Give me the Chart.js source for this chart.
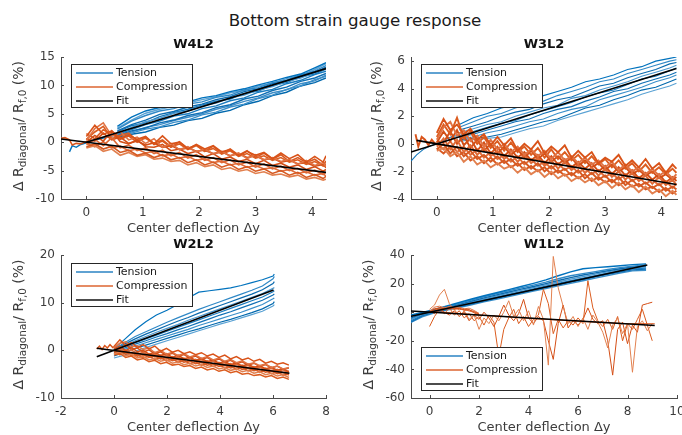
<!DOCTYPE html>
<html>
<head>
<meta charset="utf-8">
<script src="https://cdn.jsdelivr.net/npm/chart.js@4.4.0/dist/chart.umd.min.js"></script>
<style>
  body { margin: 0; width: 682px; height: 435px; overflow: hidden; background: #fff; position: relative; font-family: "DejaVu Sans", sans-serif; }
  canvas { position: absolute; }
  #main-title { position: absolute; left: 0; top: 10px; width: 710px; text-align: center; font-size: 16.7px; line-height: 20px; color: #1a1a1a; }
</style>
</head>
<body>
<div id="main-title">Bottom strain gauge response</div>
<canvas id="w4" width="341" height="210" style="left:0px;top:30px"></canvas>
<canvas id="w3" width="332" height="210" style="left:350px;top:30px"></canvas>
<canvas id="w2" width="341" height="200" style="left:0px;top:235px"></canvas>
<canvas id="w1" width="332" height="200" style="left:350px;top:235px"></canvas>
<script>
// ---- W4L2 ----
const w4XTicks = [0, 1, 2, 3, 4];
const w4YTicks = [-10, -5, 0, 5, 10, 15];
const w4TensionX = [0.55, 0.8, 1.05, 1.3, 1.55, 1.8, 2.05, 2.3, 2.55, 2.8, 3.05, 3.3, 3.55, 3.8, 4.05, 4.25];
const w4Tension = [
  [2.8, 4.4, 5.5, 6.1, 6.7, 7.1, 7.8, 8.2, 8.9, 9.4, 10.1, 10.7, 11.4, 12.0, 13.1, 14.0],
  [2.3, 3.7, 4.7, 5.5, 5.9, 6.7, 7.1, 7.9, 8.3, 9.2, 9.6, 10.5, 10.9, 11.9, 12.5, 13.5],
  [2.0, 3.1, 3.9, 4.9, 5.4, 6.2, 6.7, 7.5, 8.0, 8.9, 9.4, 10.3, 10.8, 11.8, 12.3, 13.2],
  [1.6, 2.6, 3.6, 4.2, 5.1, 5.5, 6.4, 6.9, 7.8, 8.3, 9.2, 9.8, 10.7, 11.3, 12.3, 12.9],
  [1.4, 2.2, 3.1, 3.7, 4.6, 5.0, 5.9, 6.4, 7.3, 7.8, 8.8, 9.3, 10.3, 10.9, 11.9, 12.5],
  [1.2, 2.0, 2.5, 3.4, 3.9, 4.7, 5.2, 6.1, 6.6, 7.6, 8.1, 9.1, 9.7, 10.7, 11.3, 12.1],
  [1.0, 1.6, 2.3, 2.7, 3.5, 3.9, 4.8, 5.3, 6.2, 6.7, 7.7, 8.3, 9.3, 9.9, 11.0, 11.6],
  [0.9, 1.4, 1.8, 2.6, 3.0, 3.8, 4.2, 5.1, 5.6, 6.6, 7.2, 8.2, 8.8, 9.9, 10.5, 11.3],
  [2.5, 3.9, 5.1, 5.8, 6.3, 6.9, 7.5, 8.0, 8.7, 9.1, 9.9, 10.4, 11.2, 11.7, 12.8, 13.8],
  [1.8, 2.9, 3.4, 4.5, 5.2, 5.8, 6.5, 7.2, 7.6, 8.6, 9.0, 10.0, 10.5, 11.5, 12.0, 12.9],
  [1.1, 1.8, 2.6, 3.1, 3.8, 4.4, 5.0, 5.8, 6.4, 7.2, 7.8, 8.7, 9.2, 10.3, 10.8, 11.8]
];
const w4TensionLeadX = [-0.3, -0.25, -0.18, -0.1, 0, 0.12, 0.25, 0.4, 0.55];
const w4TensionLead = [-1.7, -0.6, -0.9, -0.4, -0.1, 0.3, 0.6, 1.0, 1.3];
const w4CompressionX = [0, 0.15, 0.3, 0.45, 0.6, 0.75, 0.9, 1.05, 1.2, 1.35, 1.5, 1.65, 1.8, 1.95, 2.1, 2.25, 2.4, 2.55, 2.7, 2.85, 3.0, 3.15, 3.3, 3.45, 3.6, 3.75, 3.9, 4.05, 4.2, 4.25];
const w4Compression = [
  [1.0, 3.0, 1.4, 2.0, 0.7, 1.3, 0.5, 1.0, -0.3, 1.1, -0.3, 0.0, -1.2, -0.4, -1.2, -0.6, -1.7, -1.3, -2.4, -1.6, -2.3, -1.8, -2.9, -1.9, -2.9, -2.2, -3.5, -2.5, -3.5, -2.4],
  [0.3, 2.4, 3.4, 1.1, 1.9, 0.4, 0.9, -0.2, 0.6, -0.9, -0.2, -1.3, -0.8, -1.7, -1.2, -2.1, -1.6, -2.4, -1.9, -2.9, -2.2, -3.1, -2.7, -3.4, -3.0, -3.9, -3.2, -4.1, -3.6, -4.3],
  [0.0, 1.2, 0.2, 2.0, 0.1, -0.3, 0.4, -0.8, -0.9, -0.4, -1.5, -1.2, -2.0, -1.6, -2.6, -2.0, -3.0, -2.6, -3.4, -3.0, -3.8, -3.2, -4.1, -3.7, -4.4, -4.0, -4.8, -4.3, -5.1, -4.8],
  [-0.4, 0.5, -0.6, 0.8, -1.0, -0.5, -1.5, -1.0, -2.0, -1.4, -2.4, -1.8, -2.8, -2.2, -3.2, -2.7, -3.6, -3.1, -4.0, -3.5, -4.4, -3.8, -4.7, -4.2, -5.0, -4.6, -5.4, -4.9, -5.7, -5.3],
  [-0.8, -0.3, -1.2, -0.7, -1.8, -1.4, -2.3, -1.9, -2.7, -2.2, -3.1, -2.7, -3.6, -3.1, -4.0, -3.5, -4.4, -3.9, -4.8, -4.3, -5.1, -4.7, -5.5, -5.0, -5.8, -5.3, -6.2, -5.7, -6.4, -6.0],
  [-1.0, -0.6, -1.6, -1.2, -2.3, -1.8, -2.5, -2.2, -3.0, -2.8, -3.4, -3.2, -4.0, -3.6, -4.3, -4.0, -4.8, -4.5, -5.1, -4.8, -5.5, -5.2, -5.8, -5.6, -6.1, -5.8, -6.5, -6.2, -6.7, -6.5],
  [0.5, 1.8, 2.8, 0.6, 1.2, 1.6, 0.3, 0.7, -0.2, 0.4, -0.8, -0.3, -1.3, -0.6, -1.6, -1.1, -2.1, -1.5, -2.5, -2.0, -2.8, -2.4, -3.2, -2.7, -3.5, -3.1, -3.9, -3.4, -4.2, -3.8],
  [0.6, 0.2, 1.6, 0.4, 0.9, -0.2, 0.2, -0.5, -0.1, -0.9, -0.6, -1.3, -1.0, -1.6, -1.4, -2.0, -1.7, -2.4, -2.0, -2.7, -2.4, -3.1, -2.8, -3.5, -3.2, -3.8, -3.6, -4.2, -3.9, -4.5],
  [-0.2, -0.8, 0.1, -1.0, -0.7, -1.5, -1.2, -1.9, -1.6, -2.4, -2.1, -2.8, -2.5, -3.2, -2.9, -3.6, -3.3, -4.0, -3.7, -4.4, -4.1, -4.7, -4.5, -5.1, -4.8, -5.5, -5.2, -5.8, -5.5, -6.0],
  [1.5, 0.6, 2.2, 1.4, 0.5, 1.1, 0.0, 0.9, -0.4, 0.2, -0.9, 0.1, -1.1, -0.5, -1.6, -0.7, -2.0, -1.2, -2.3, -1.5, -2.7, -1.9, -3.0, -2.2, -3.4, -2.7, -3.6, -3.0, -4.1, -3.3]
];
const w4CompressionLeadX = [-0.45, -0.38, -0.3, -0.25, -0.18, -0.1, 0];
const w4CompressionLead = [0.7, 0.8, 0.4, -0.5, -0.2, -0.3, 0.1];
const w4FitTensionX = [0, 4.25];
const w4FitTension = [0, 12.96];
const w4FitCompressionX = [-0.45, 4.25];
const w4FitCompression = [0.56, -5.31];

// ---- W3L2 ----
const w3XTicks = [0, 1, 2, 3, 4];
const w3YTicks = [-4, -2, 0, 2, 4, 6];
const w3TensionX = [0.4, 0.65, 0.9, 1.15, 1.4, 1.65, 1.9, 2.15, 2.4, 2.65, 2.9, 3.15, 3.4, 3.65, 3.9, 4.15, 4.27];
const w3Tension = [
  [1.4, 1.9, 2.2, 2.6, 2.8, 3.2, 3.5, 3.8, 4.1, 4.5, 4.7, 5.0, 5.4, 5.6, 6.0, 6.2, 6.3],
  [1.2, 1.6, 2.0, 2.2, 2.6, 2.9, 3.1, 3.5, 3.8, 4.1, 4.5, 4.7, 5.1, 5.4, 5.7, 6.0, 6.1],
  [1.0, 1.3, 1.6, 2.0, 2.3, 2.5, 2.9, 3.2, 3.4, 3.8, 4.2, 4.4, 4.8, 5.1, 5.4, 5.8, 5.9],
  [0.8, 1.1, 1.4, 1.6, 2.0, 2.3, 2.6, 2.8, 3.3, 3.5, 3.9, 4.2, 4.5, 4.9, 5.2, 5.5, 5.7],
  [0.6, 0.9, 1.2, 1.5, 1.7, 2.1, 2.4, 2.7, 3.0, 3.4, 3.7, 3.9, 4.3, 4.7, 4.9, 5.3, 5.5],
  [0.5, 0.7, 1.0, 1.3, 1.6, 1.8, 2.2, 2.5, 2.7, 3.1, 3.4, 3.8, 4.0, 4.4, 4.7, 5.0, 5.2],
  [0.4, 0.5, 0.8, 1.0, 1.3, 1.6, 1.8, 2.2, 2.5, 2.7, 3.2, 3.5, 3.8, 4.1, 4.5, 4.8, 5.0],
  [0.3, 0.4, 0.5, 0.7, 1.0, 1.3, 1.6, 1.8, 2.2, 2.6, 2.8, 3.2, 3.5, 3.9, 4.1, 4.5, 4.7],
  [0.2, 0.3, 0.4, 0.5, 0.8, 1.1, 1.3, 1.7, 2.0, 2.3, 2.6, 2.9, 3.2, 3.6, 3.9, 4.2, 4.4]
];
const w3TensionLeadX = [-0.46, -0.36, -0.24, -0.12, 0.02, 0.15, 0.28, 0.4];
const w3TensionLead = [-1.25, -0.8, -0.4, -0.15, 0.05, 0.3, 0.55, 0.6];
const w3CompressionX = [0, 0.12, 0.24, 0.36, 0.48, 0.6, 0.72, 0.84, 0.96, 1.08, 1.2, 1.32, 1.44, 1.56, 1.68, 1.8, 1.92, 2.04, 2.16, 2.28, 2.4, 2.52, 2.64, 2.76, 2.88, 3.0, 3.12, 3.24, 3.36, 3.48, 3.6, 3.72, 3.84, 3.96, 4.08, 4.2, 4.27];
const w3Compression = [
  [0.8, 1.8, 1.0, 1.4, 0.7, 1.1, 0.3, 0.7, -0.1, 0.5, -0.1, 0.4, -0.5, 0.0, -0.4, 0.2, -0.7, -0.2, -0.6, -0.1, -1.0, -0.5, -1.0, -0.6, -1.4, -1.0, -1.3, -0.8, -1.6, -1.2, -1.7, -1.1, -1.8, -1.4, -2.1, -1.5, -1.8],
  [0.3, 1.2, 1.6, 0.6, 1.0, 0.2, 0.6, -0.2, 0.3, -0.4, 0.0, -0.6, -0.2, -0.8, -0.4, -0.9, -0.5, -1.1, -0.6, -1.2, -0.9, -1.4, -1.0, -1.5, -1.2, -1.7, -1.3, -1.9, -1.5, -2.0, -1.7, -2.2, -1.8, -2.3, -2.0, -2.5, -2.2],
  [0.1, 0.9, 0.2, 1.0, -0.1, 0.4, -0.5, 0.1, -0.7, -0.2, -0.9, -0.4, -1.0, -0.6, -1.2, -0.8, -1.4, -0.9, -1.5, -1.1, -1.7, -1.3, -1.8, -1.4, -2.0, -1.6, -2.2, -1.7, -2.3, -1.9, -2.5, -2.1, -2.6, -2.2, -2.8, -2.4, -2.7],
  [-0.2, 0.4, -0.4, 0.3, -0.6, -0.1, -0.8, -0.3, -0.9, -0.5, -1.1, -0.7, -1.3, -0.8, -1.4, -1.0, -1.6, -1.2, -1.8, -1.3, -1.9, -1.5, -2.1, -1.7, -2.3, -1.8, -2.4, -2.0, -2.6, -2.1, -2.7, -2.3, -2.9, -2.4, -3.0, -2.6, -3.0],
  [-0.4, 0.0, -0.7, -0.2, -0.9, -0.5, -1.1, -0.8, -1.3, -0.9, -1.4, -1.1, -1.6, -1.3, -1.8, -1.4, -2.0, -1.6, -2.1, -1.8, -2.3, -1.9, -2.5, -2.1, -2.6, -2.3, -2.8, -2.4, -3.0, -2.6, -3.1, -2.8, -3.2, -2.9, -3.4, -3.1, -3.3],
  [-0.5, -0.3, -0.9, -0.6, -1.3, -0.9, -1.5, -1.2, -1.7, -1.4, -1.8, -1.6, -2.1, -1.7, -2.2, -1.9, -2.4, -2.0, -2.5, -2.2, -2.7, -2.4, -2.8, -2.5, -3.0, -2.7, -3.2, -2.8, -3.3, -3.0, -3.5, -3.1, -3.6, -3.3, -3.8, -3.4, -3.7],
  [0.5, 1.4, 0.7, 1.9, 0.4, 0.9, 0.0, 0.5, -0.3, 0.2, -0.5, 0.1, -0.6, -0.2, -0.8, -0.3, -1.0, -0.4, -1.1, -0.6, -1.2, -0.8, -1.4, -0.9, -1.5, -1.1, -1.7, -1.2, -1.8, -1.4, -2.0, -1.5, -2.1, -1.7, -2.2, -1.8, -2.1],
  [0.2, 0.1, 0.9, 0.0, 0.6, -0.3, 0.3, -0.5, 0.0, -0.7, -0.2, -0.8, -0.4, -1.0, -0.5, -1.1, -0.7, -1.3, -0.9, -1.4, -1.0, -1.6, -1.2, -1.7, -1.4, -1.9, -1.5, -2.0, -1.7, -2.2, -1.9, -2.3, -2.0, -2.5, -2.2, -2.6, -2.4],
  [0.0, -0.4, 0.2, -0.6, -0.2, -0.8, -0.4, -1.0, -0.6, -1.1, -0.8, -1.3, -0.9, -1.5, -1.1, -1.6, -1.3, -1.8, -1.4, -1.9, -1.6, -2.1, -1.8, -2.2, -1.9, -2.4, -2.1, -2.6, -2.2, -2.7, -2.4, -2.9, -2.6, -3.0, -2.7, -3.2, -2.9],
  [-0.3, -0.7, -0.2, -0.9, -0.6, -1.2, -0.9, -1.4, -1.0, -1.5, -1.2, -1.7, -1.4, -1.9, -1.6, -2.0, -1.7, -2.2, -1.9, -2.3, -2.1, -2.5, -2.2, -2.7, -2.4, -2.8, -2.6, -3.0, -2.7, -3.1, -2.9, -3.3, -3.1, -3.5, -3.2, -3.6, -3.4]
];
const w3CompressionLeadX = [-0.38, -0.33, -0.27, -0.21, -0.15, -0.09, -0.03, 0.02];
const w3CompressionLead = [0.7, -0.2, 0.5, 0.3, -0.1, 0.3, 0.0, 0.05];
const w3FitTensionX = [-0.46, 4.27];
const w3FitTension = [-0.59, 5.47];
const w3FitCompressionX = [-0.36, 4.27];
const w3FitCompression = [0.25, -2.95];

// ---- W2L2 ----
const w2XTicks = [-2, 0, 2, 4, 6, 8];
const w2YTicks = [-10, 0, 10, 20];
const w2TensionX = [0, 0.4, 0.8, 1.2, 1.6, 2.0, 2.4, 2.8, 3.2, 3.6, 4.0, 4.4, 4.8, 5.2, 5.6, 6.0, 6.05];
const w2Tension = [
  [0.3, 2.3, 4.3, 6.0, 7.4, 8.4, 9.6, 11.0, 12.2, 12.5, 12.8, 13.1, 13.6, 14.2, 14.8, 15.6, 16.0],
  [0.2, 1.6, 2.9, 3.9, 4.9, 5.9, 6.8, 7.7, 8.6, 9.4, 10.2, 11.0, 11.8, 12.6, 13.5, 15.0, 15.5],
  [0.1, 1.3, 2.4, 3.4, 4.3, 5.2, 6.1, 6.9, 7.8, 8.6, 9.4, 10.2, 11.0, 11.8, 12.7, 14.0, 14.4],
  [0.0, 1.0, 2.0, 2.9, 3.8, 4.6, 5.4, 6.3, 7.1, 7.9, 8.7, 9.5, 10.3, 11.1, 11.9, 13.0, 13.2],
  [-0.2, 0.8, 1.6, 2.4, 3.2, 4.0, 4.8, 5.6, 6.4, 7.2, 8.0, 8.8, 9.6, 10.4, 11.2, 12.3, 12.5],
  [-0.5, 0.5, 1.3, 2.0, 2.8, 3.5, 4.3, 5.0, 5.8, 6.6, 7.4, 8.1, 8.9, 9.7, 10.5, 11.6, 11.8],
  [-0.8, 0.2, 0.9, 1.6, 2.3, 3.0, 3.7, 4.4, 5.2, 5.9, 6.6, 7.3, 8.0, 8.8, 9.6, 10.8, 11.0],
  [-1.2, -0.4, 0.4, 1.1, 1.8, 2.5, 3.2, 3.9, 4.5, 5.2, 5.9, 6.5, 7.2, 7.9, 8.7, 9.8, 10.2],
  [-1.6, -1.0, -0.2, 0.6, 1.3, 2.0, 2.7, 3.4, 4.1, 4.8, 5.5, 6.1, 6.8, 7.5, 8.2, 9.3, 9.6]
];
const w2CompressionX = [0, 0.22, 0.44, 0.66, 0.88, 1.1, 1.32, 1.54, 1.76, 1.98, 2.2, 2.42, 2.64, 2.86, 3.08, 3.3, 3.52, 3.74, 3.96, 4.18, 4.4, 4.62, 4.84, 5.06, 5.28, 5.5, 5.72, 5.94, 6.16, 6.38, 6.6];
const w2Compression = [
  [0.8, 2.2, 1.0, 1.6, 0.6, 1.2, 0.3, 0.9, -0.2, 0.4, -0.4, 0.0, -0.7, -0.3, -0.9, -0.5, -1.2, -0.8, -1.5, -1.0, -1.8, -1.3, -2.0, -1.6, -2.3, -1.9, -2.7, -2.3, -2.9, -2.6, -3.1],
  [0.5, 1.5, 1.8, 0.8, 0.9, 0.2, 0.5, -0.5, 0.0, -0.8, -0.4, -1.1, -0.7, -1.4, -1.0, -1.7, -1.3, -2.0, -1.6, -2.3, -1.9, -2.6, -2.2, -2.9, -2.6, -3.2, -2.9, -3.6, -3.3, -3.9, -3.6],
  [0.2, 0.9, -0.1, 0.6, -0.3, 0.0, -0.8, -0.4, -1.1, -0.7, -1.5, -1.0, -1.8, -1.4, -2.1, -1.7, -2.4, -2.0, -2.7, -2.3, -3.0, -2.6, -3.3, -2.9, -3.6, -3.2, -3.9, -3.5, -4.2, -3.9, -4.5],
  [-0.2, 0.4, -0.5, 0.1, -0.8, -0.4, -1.1, -0.8, -1.4, -1.1, -1.7, -1.4, -2.0, -1.7, -2.3, -2.0, -2.6, -2.3, -2.9, -2.6, -3.2, -2.9, -3.5, -3.2, -3.8, -3.5, -4.1, -3.8, -4.4, -4.1, -4.8],
  [-0.4, 0.0, -0.8, -0.4, -1.2, -0.8, -1.5, -1.2, -1.8, -1.5, -2.2, -1.9, -2.5, -2.2, -2.8, -2.5, -3.1, -2.8, -3.4, -3.1, -3.7, -3.4, -4.0, -3.7, -4.3, -4.0, -4.6, -4.3, -4.9, -4.6, -5.2],
  [-0.7, -0.3, -1.2, -0.8, -1.6, -1.3, -2.0, -1.7, -2.3, -2.0, -2.7, -2.4, -3.0, -2.7, -3.3, -3.0, -3.6, -3.3, -3.9, -3.6, -4.2, -3.9, -4.5, -4.2, -4.8, -4.5, -5.1, -4.8, -5.4, -5.1, -5.7],
  [-1.0, -0.6, -1.5, -1.2, -2.0, -1.7, -2.4, -2.1, -2.8, -2.5, -3.1, -2.9, -3.4, -3.2, -3.8, -3.5, -4.1, -3.8, -4.4, -4.1, -4.7, -4.4, -5.0, -4.8, -5.3, -5.1, -5.6, -5.3, -5.9, -5.6, -6.1],
  [0.6, 0.3, 1.2, 0.2, 0.5, -0.4, 0.1, -0.7, -0.3, -1.0, -0.6, -1.3, -0.9, -1.6, -1.2, -1.9, -1.5, -2.2, -1.8, -2.5, -2.1, -2.8, -2.4, -3.1, -2.7, -3.4, -3.0, -3.7, -3.3, -4.0, -3.7],
  [0.0, -0.5, 0.1, -0.7, -0.4, -1.1, -0.7, -1.4, -1.0, -1.7, -1.3, -2.0, -1.6, -2.3, -1.9, -2.6, -2.2, -2.9, -2.5, -3.2, -2.8, -3.5, -3.1, -3.8, -3.4, -4.1, -3.7, -4.4, -4.0, -4.7, -4.4],
  [-0.5, -0.9, -0.4, -1.2, -0.9, -1.6, -1.2, -1.9, -1.5, -2.2, -1.8, -2.5, -2.1, -2.8, -2.4, -3.1, -2.7, -3.4, -3.0, -3.7, -3.3, -4.0, -3.6, -4.3, -3.9, -4.6, -4.2, -4.9, -4.5, -5.2, -4.9]
];
const w2CompressionLeadX = [-0.65, -0.55, -0.45, -0.35, -0.25, -0.15, -0.05, 0];
const w2CompressionLead = [0.3, 0.9, 0.2, 1.0, 0.5, 1.2, 0.6, 0.8];
const w2FitTensionX = [-0.65, 6.02];
const w2FitTension = [-1.35, 12.65];
const w2FitCompressionX = [-0.65, 6.62];
const w2FitCompression = [0.45, -4.8];

// ---- W1L2 ----
const w1XTicks = [0, 2, 4, 6, 8, 10];
const w1YTicks = [-60, -40, -20, 0, 20, 40];
const w1TensionX = [-0.75, -0.3, 0.2, 0.7, 1.2, 1.7, 2.2, 2.7, 3.2, 3.7, 4.2, 4.7, 5.2, 5.7, 6.2, 6.7, 7.2, 7.7, 8.2, 8.75];
const w1Tension = [
  [-2.0, -0.2, 2.0, 4.3, 6.8, 9.2, 11.5, 13.6, 15.8, 18.0, 20.2, 22.6, 25.5, 28.2, 30.4, 31.2, 31.8, 32.5, 33.3, 33.8],
  [-3.0, -0.6, 1.6, 3.8, 6.2, 8.5, 10.8, 12.9, 15.0, 17.0, 18.9, 21.0, 23.4, 25.5, 27.0, 28.4, 29.9, 31.2, 32.2, 33.0],
  [-4.0, -1.1, 1.2, 3.3, 5.5, 7.8, 10.0, 12.1, 14.1, 16.1, 18.0, 20.0, 22.2, 24.2, 26.0, 27.5, 29.0, 30.4, 31.6, 32.2],
  [-5.0, -1.5, 0.8, 2.8, 4.9, 7.1, 9.2, 11.3, 13.3, 15.3, 17.2, 19.1, 21.1, 23.1, 24.9, 26.6, 28.2, 29.7, 31.0, 31.6],
  [-6.0, -2.0, 0.4, 2.4, 4.3, 6.4, 8.5, 10.5, 12.5, 14.4, 16.3, 18.2, 20.1, 22.0, 23.8, 25.6, 27.3, 28.9, 30.3, 30.8],
  [-6.8, -2.6, 0.0, 2.0, 3.8, 5.8, 7.8, 9.7, 11.6, 13.5, 15.4, 17.3, 19.2, 21.0, 22.9, 24.7, 26.5, 28.1, 29.6, 30.1],
  [-7.2, -3.2, -0.5, 1.5, 3.2, 5.2, 7.2, 9.0, 10.9, 12.8, 14.7, 16.5, 18.4, 20.2, 22.0, 23.8, 25.6, 27.3, 28.9, 29.3]
];
const w1CompressionStartX = [0, 0.2, 0.4, 0.6, 0.8, 1.0, 1.2, 1.4, 1.6, 1.8, 2.0];
const w1CompressionStart = [
  [0.5, 3.5, 4.2, 3.0, 4.0, 3.2, 3.5, 2.4, 2.8, 1.2, -0.8],
  [0.0, 2.0, 3.2, 2.2, 3.0, 2.5, 2.6, 1.8, 1.5, 0.5, -1.2],
  [-0.5, 1.5, 2.5, 3.6, 2.0, 2.8, 1.8, 2.2, 0.8, 0.0, -1.5],
  [0.3, 2.8, 1.8, 2.6, 3.4, 1.9, 2.9, 1.2, 1.9, -0.5, -1.8]
];
const w1CompressionSteadyX = [0, 1, 2, 3, 4, 5, 6, 7, 8, 9.1];
const w1CompressionSteady = [0.5, -0.6, -2.0, -3.0, -4.3, -5.3, -6.3, -7.3, -8.0, -8.1];
const w1CompressionNoisyX = [0, 0.2, 0.4, 0.6, 0.8, 1.0, 1.2, 1.4, 1.6, 1.8, 2.0, 2.2, 2.4, 2.6, 2.8, 3.0, 3.2, 3.4, 3.6, 3.8, 4.0, 4.2, 4.4, 4.6, 4.8, 5.0, 5.2, 5.4, 5.6, 5.8, 6.0, 6.2, 6.4, 6.6, 6.8, 7.0, 7.2, 7.4, 7.6, 7.8, 8.0, 8.2, 8.4, 8.6, 8.8, 9.0];
const w1CompressionNoisy = [
  [2, 5, 12, 16, 6, 2, -3, 1, -5, -2, -12, -4, -8, -2, -6, 0, 8, -3, 2, -6, 1, -9, 4, -5, -37, 39, 17, 4, -8, -3, -10, -4, -12, -2, -7, -14, -25, -9, -4, -15, -8, -42, -10, -6, -13, -8],
  [-10, -3, 2, -1, 3, -2, 1, -4, -1, -6, -3, -9, -2, -7, -31, -12, -4, 2, -8, -3, -10, -5, -2, 16, 6, -15, -5, -11, -6, -9, -4, -8, 22, 3, -6, -10, -5, -12, -3, -20, -8, -12, -5, 2, -9, -20],
  [1, -1, 3, 0, -2, 1, -3, 0, -6, -2, -5, 0, -4, -10, -3, 5, -2, -6, -1, 9, -4, -8, -3, -6, -20, -33, -8, 5, -11, -6, -9, -5, 3, -5, -8, -6, -20, -44, -12, -7, -22, -9, -14, 5, 6, 7]
];
const w1FitTensionX = [-0.75, 8.8];
const w1FitTension = [-2.8, 33.0];
const w1FitCompressionX = [-0.75, 9.1];
const w1FitCompression = [0.8, -9.3];

const legendLabels = ['Tension', 'Compression', 'Fit'];
const xTitle = 'Center deflection Δy';

// styles
const AXIS = '#4a4a4a';
const TICK = '#3c3c3c';
const blues = ['#0072BD', '#2f88c6', '#0b6aae', '#4b98cf', '#1a7cc0', '#0f6fb5', '#3a8fca', '#0068ad', '#5aa2d4', '#1578bb', '#3d8cc6'];
const oranges = ['#D95319', '#e07344', '#d24f17', '#df6a36', '#d65a22', '#e2804f', '#db5c1f', '#d44e16', '#e06c3a', '#d85820'];

Chart.defaults.font.family = '"DejaVu Sans", sans-serif';

function pts(xs, ys) {
  return xs.map((x, i) => ({ x: x, y: ys[i] }));
}

function trace(data, color, width, order) {
  return { data: data, borderColor: color, borderWidth: width, pointRadius: 0, fill: false, tension: 0, order: order };
}

function drawYLabel(ctx, cx, cy) {
  const parts = [['Δ R', 14, 0], ['diagonal', 10.5, 4], ['/ R', 14, 0], ['f,0', 10.5, 4], [' (%)', 14, 0]];
  let total = 0;
  parts.forEach(p => { ctx.font = p[1] + 'px "DejaVu Sans"'; p.push(ctx.measureText(p[0]).width); total += p[3]; });
  ctx.save();
  ctx.translate(cx, cy);
  ctx.rotate(-Math.PI / 2);
  ctx.fillStyle = TICK;
  ctx.textAlign = 'left';
  ctx.textBaseline = 'middle';
  let x = -total / 2;
  parts.forEach(p => {
    ctx.font = p[1] + 'px "DejaVu Sans"';
    ctx.fillText(p[0], x, p[2]);
    x += p[3];
  });
  ctx.restore();
}

const panelDeco = {
  id: 'panelDeco',
  afterDraw(chart, args, opts) {
    const ctx = chart.ctx;
    const a = chart.chartArea;
    const xs = chart.scales.x, ys = chart.scales.y;
    ctx.save();
    // inward tick marks
    ctx.strokeStyle = AXIS;
    ctx.lineWidth = 1;
    xs.ticks.forEach(t => {
      const px = Math.round(xs.getPixelForValue(t.value)) + 0.5;
      ctx.beginPath(); ctx.moveTo(px, a.bottom); ctx.lineTo(px, a.bottom - 3); ctx.stroke();
    });
    ys.ticks.forEach(t => {
      const py = Math.round(ys.getPixelForValue(t.value)) + 0.5;
      ctx.beginPath(); ctx.moveTo(a.left, py); ctx.lineTo(a.left + 3, py); ctx.stroke();
    });
    // subplot title
    ctx.fillStyle = '#111';
    ctx.font = 'bold 13px "DejaVu Sans"';
    ctx.textAlign = 'center';
    ctx.textBaseline = 'middle';
    ctx.fillText(opts.title, (a.left + a.right) / 2, a.top - opts.titleGap);
    // y label, placed left of the widest tick label
    ctx.font = '12px "DejaVu Sans"';
    let w = 0;
    ys.ticks.forEach(t => { w = Math.max(w, ctx.measureText(t.label).width); });
    drawYLabel(ctx, a.left - 5 - w - 17, (a.top + a.bottom) / 2 - 2);
    // legend box
    const bw = 122, bh = 44;
    const bx = a.left + 10;
    const by = opts.legendAtBottom ? a.bottom - 7 - bh : a.top + opts.legendGap;
    ctx.fillStyle = '#fff';
    ctx.fillRect(bx, by, bw, bh);
    ctx.strokeStyle = '#262626';
    ctx.strokeRect(bx + 0.5, by + 0.5, bw - 1, bh - 1);
    const colors = ['#2a83c3', '#dc6530', '#111'];
    ctx.font = '11px "DejaVu Sans"';
    ctx.textAlign = 'left';
    legendLabels.forEach((lab, i) => {
      const yy = by + 9 + i * 14;
      ctx.strokeStyle = colors[i];
      ctx.lineWidth = 1.5;
      ctx.beginPath(); ctx.moveTo(bx + 5, yy); ctx.lineTo(bx + 42, yy); ctx.stroke();
      ctx.fillStyle = '#1a1a1a';
      ctx.fillText(lab, bx + 45, yy + 0.5);
    });
    ctx.restore();
  }
};

function makePanel(id, p) {
  const datasets = [];
  p.fits.forEach(f => datasets.push(trace(f, '#000', 1.6, 0)));
  p.compression.forEach((d, i) => datasets.push(trace(d, oranges[i % oranges.length], p.compWidth, 1)));
  p.tension.forEach((d, i) => datasets.push(trace(d, blues[i % blues.length], p.tensWidth, 2)));
  new Chart(document.getElementById(id), {
    type: 'line',
    data: { datasets: datasets },
    plugins: [panelDeco],
    options: {
      responsive: false,
      animation: false,
      events: [],
      layout: { padding: { top: p.padTop, right: p.padRight, left: 0, bottom: 0 } },
      plugins: {
        legend: { display: false },
        tooltip: { enabled: false },
        panelDeco: { title: p.title, titleGap: p.titleGap, legendGap: p.legendGap, legendAtBottom: p.legendAtBottom }
      },
      scales: {
        x: {
          type: 'linear', min: p.xMin, max: p.xMax,
          afterBuildTicks: s => { s.ticks = p.xTicks.map(v => ({ value: v })); },
          afterFit: s => { s.height = p.xAxisHeight; s.paddingLeft = 0; s.paddingRight = 0; },
          grid: { display: true, drawOnChartArea: false, drawTicks: false, color: 'rgba(0,0,0,0)' },
          border: { display: true, color: AXIS, width: 1 },
          ticks: { color: TICK, font: { size: 12 }, padding: 7, maxRotation: 0, autoSkip: false },
          title: { display: true, text: xTitle, color: TICK, font: { size: 13 }, padding: { top: 0, bottom: p.xTitlePad } }
        },
        y: {
          type: 'linear', min: p.yMin, max: p.yMax,
          afterBuildTicks: s => { s.ticks = p.yTicks.map(v => ({ value: v })); },
          afterFit: s => { s.width = 61; s.paddingTop = 0; s.paddingBottom = 0; },
          grid: { display: true, drawOnChartArea: false, drawTicks: false, color: 'rgba(0,0,0,0)' },
          border: { display: true, color: AXIS, width: 1 },
          ticks: { color: TICK, font: { size: 12 }, padding: 6, autoSkip: false }
        }
      }
    }
  });
}

makePanel('w4', {
  title: 'W4L2', xMin: -0.45, xMax: 4.25, yMin: -10, yMax: 15, xTicks: w4XTicks, yTicks: w4YTicks,
  padTop: 27, padRight: 15, xAxisHeight: 41, xTitlePad: 4, titleGap: 12, legendGap: 7,
  tensWidth: 1.4, compWidth: 1.6,
  fits: [pts(w4FitTensionX, w4FitTension), pts(w4FitCompressionX, w4FitCompression)],
  compression: w4Compression.map(ys => pts(w4CompressionX, ys)).concat([pts(w4CompressionLeadX, w4CompressionLead)]),
  tension: w4Tension.map(ys => pts(w4TensionX, ys)).concat([pts(w4TensionLeadX, w4TensionLead)])
});

makePanel('w3', {
  title: 'W3L2', xMin: -0.46, xMax: 4.28, yMin: -4, yMax: 6.3, xTicks: w3XTicks, yTicks: w3YTicks,
  padTop: 27, padRight: 5, xAxisHeight: 41, xTitlePad: 4, titleGap: 12, legendGap: 7,
  tensWidth: 1.1, compWidth: 1.9,
  fits: [pts(w3FitTensionX, w3FitTension), pts(w3FitCompressionX, w3FitCompression)],
  compression: w3Compression.map(ys => pts(w3CompressionX, ys)).concat([pts(w3CompressionLeadX, w3CompressionLead)]),
  tension: w3Tension.map(ys => pts(w3TensionX, ys)).concat([pts(w3TensionLeadX, w3TensionLead)])
});

makePanel('w2', {
  title: 'W2L2', xMin: -2, xMax: 8, yMin: -10, yMax: 20, xTicks: w2XTicks, yTicks: w2YTicks,
  padTop: 20, padRight: 15, xAxisHeight: 37, xTitlePad: 0, titleGap: 10, legendGap: 8,
  tensWidth: 1.2, compWidth: 1.5,
  fits: [pts(w2FitTensionX, w2FitTension), pts(w2FitCompressionX, w2FitCompression)],
  compression: w2Compression.map(ys => pts(w2CompressionX, ys)).concat([pts(w2CompressionLeadX, w2CompressionLead)]),
  tension: w2Tension.map(ys => pts(w2TensionX, ys))
});

makePanel('w1', {
  title: 'W1L2', xMin: -0.75, xMax: 10, yMin: -60, yMax: 40, xTicks: w1XTicks, yTicks: w1YTicks,
  padTop: 20, padRight: 5, xAxisHeight: 37, xTitlePad: 0, titleGap: 10, legendAtBottom: true,
  tensWidth: 1.4, compWidth: 1,
  fits: [pts(w1FitTensionX, w1FitTension), pts(w1FitCompressionX, w1FitCompression)],
  compression: [pts(w1CompressionSteadyX, w1CompressionSteady)]
    .concat(w1CompressionStart.map(ys => pts(w1CompressionStartX, ys)))
    .concat(w1CompressionNoisy.map(ys => pts(w1CompressionNoisyX, ys))),
  tension: w1Tension.map(ys => pts(w1TensionX, ys))
});
</script>
</body>
</html>
